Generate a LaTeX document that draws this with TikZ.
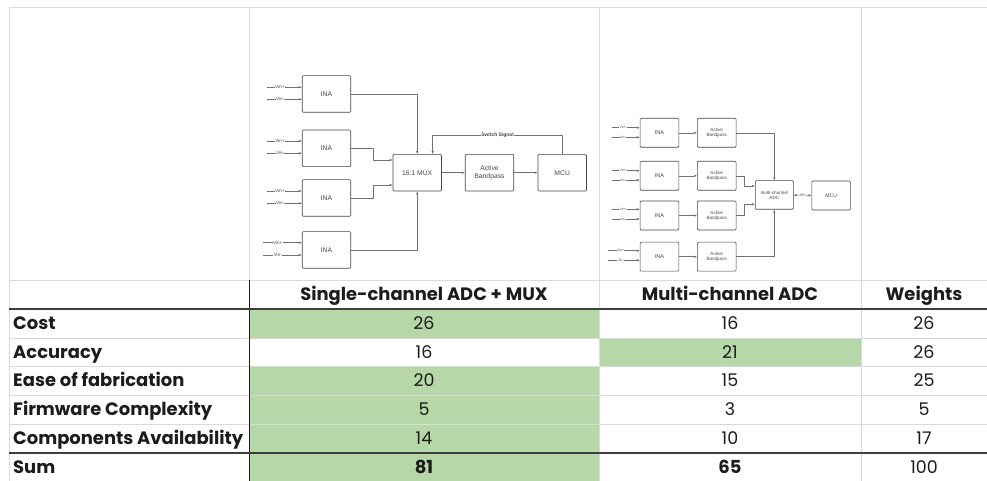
\documentclass[tikz,border=0pt]{standalone}
\usepackage{fontspec}
\setmainfont{Poppins}
\newfontfamily\diagfont{Liberation Sans}
\usetikzlibrary{arrows.meta}
\definecolor{cellgreen}{HTML}{B6D7A8}
\definecolor{gridgray}{HTML}{DADADA}
\definecolor{inkdark}{HTML}{1C1C1C}
\definecolor{wiregray}{HTML}{707070}
\definecolor{boxgray}{HTML}{474747}

\begin{document}
\begin{tikzpicture}[x=1bp,y=-1bp,>={Latex[length=3bp,width=2.4bp]},line join=bevel,
  blk_a/.style={draw=boxgray,line width=0.6bp,rounded corners=1bp,fill=white,inner sep=0pt,
    minimum width=48.5bp,minimum height=36.6bp,align=center,text=boxgray,
    font=\diagfont\fontsize{6.8}{7.6}\selectfont},
  blk_b/.style={blk_a,minimum width=38.7bp,minimum height=29bp,
    font=\diagfont\fontsize{4.6}{5.2}\selectfont},
  wire/.style={draw=wiregray,line width=0.5bp},
  vin_a/.style={fill=white,inner sep=0.3bp,text=boxgray,font=\diagfont\fontsize{4.6}{5}\selectfont},
  vin_b/.style={vin_a,font=\diagfont\fontsize{3.4}{4}\selectfont},
  hdr/.style={text=inkdark,inner sep=0pt,text height=12.5bp,text depth=0bp,
    font=\fontsize{18}{20}\selectfont\bfseries},
  cell/.style={hdr,font=\fontsize{17.5}{20}\selectfont},
  grid_thin/.style={draw=gridgray,line width=0.8bp},
  grid_thick/.style={draw=inkdark!85,line width=1.5bp},
]
\useasboundingbox (0,0) rectangle (987,481);
%% cell fills
\fill [cellgreen] (249,309) rectangle (599,338);
\fill [cellgreen] (249,366.5) rectangle (599,481);
\fill [cellgreen] (599,338) rectangle (861,366.5);
%% grid
\draw [grid_thin] (9,7) -- (987,7);
\draw [grid_thin] (9,7) -- (9,481);
\draw [grid_thin] (249,7) -- (249,280);
\draw [grid_thin] (599,7) -- (599,481);
\draw [grid_thin] (861,7) -- (861,481);
\draw [grid_thin] (9,280) -- (987,280);
\draw [grid_thin] (9,338) -- (987,338);
\draw [grid_thin] (9,366.5) -- (987,366.5);
\draw [grid_thin] (9,395) -- (987,395);
\draw [grid_thin] (9,424) -- (987,424);
\draw [draw=inkdark,line width=1bp] (249,280) -- (249,481);
\draw [grid_thick] (9,309) -- (987,309);
\draw [grid_thick] (9,453) -- (987,453);
%% table text
\node (head_1) at (424,294.5) [hdr] {Single-channel ADC + MUX};
\node (head_2) at (730,294.5) [hdr] {Multi-channel ADC};
\node (head_3) at (924,294.5) [hdr] {Weights};
\node (row_cost) at (13,323.5) [hdr,anchor=west] {Cost};
\node (row_acc) at (13,352) [hdr,anchor=west] {Accuracy};
\node (row_fab) at (13,380.5) [hdr,anchor=west] {Ease of fabrication};
\node (row_fw) at (13,409.5) [hdr,anchor=west] {Firmware Complexity};
\node (row_comp) at (13,438.5) [hdr,anchor=west] {Components Availability};
\node (row_sum) at (13,467) [hdr,anchor=west] {Sum};
\node (cost_1) at (424,323.5) [cell] {26};
\node (cost_2) at (730,323.5) [cell] {16};
\node (cost_3) at (924,323.5) [cell] {26};
\node (acc_1) at (424,352) [cell] {16};
\node (acc_2) at (730,352) [cell] {21};
\node (acc_3) at (924,352) [cell] {26};
\node (fab_1) at (424,380.5) [cell] {20};
\node (fab_2) at (730,380.5) [cell] {15};
\node (fab_3) at (924,380.5) [cell] {25};
\node (fw_1) at (424,409.5) [cell] {5};
\node (fw_2) at (730,409.5) [cell] {3};
\node (fw_3) at (924,409.5) [cell] {5};
\node (comp_1) at (424,438.5) [cell] {14};
\node (comp_2) at (730,438.5) [cell] {10};
\node (comp_3) at (924,438.5) [cell] {17};
\node (sum_1) at (424,467) [hdr] {81};
\node (sum_2) at (730,467) [hdr] {65};
\node (sum_3) at (924,467) [cell] {100};
%% single-channel ADC + MUX
\node (ina_1) at (326.5,94) [blk_a] {INA};
\node (ina_2) at (326.5,148.3) [blk_a] {INA};
\node (ina_3) at (326.5,198) [blk_a] {INA};
\node (ina_4) at (326.5,250) [blk_a] {INA};
\node (mux) at (417.2,172.7) [blk_a] {16:1 MUX};
\node (bp) at (489.5,172.7) [blk_a] {Active\\Bandpass};
\node (mcu) at (562.2,172.7) [blk_a] {MCU};
\coordinate (vp_1) at (266.7,87.3);
\coordinate (vm_1) at (266.7,99.3);
\coordinate (vp_2) at (266.7,141);
\coordinate (vm_2) at (266.7,153.3);
\coordinate (vp_3) at (266.7,191);
\coordinate (vm_3) at (266.7,203.3);
\coordinate (vp_4) at (263,242.7);
\coordinate (vm_4) at (263,255);
\draw [wire,->] (vp_1) -- (vp_1 -| ina_1.west) node [vin_a,pos=0.38] {Vin+};
\draw [wire,->] (vm_1) -- (vm_1 -| ina_1.west) node [vin_a,pos=0.38] {Vin-};
\draw [wire,->] (vp_2) -- (vp_2 -| ina_2.west) node [vin_a,pos=0.38] {Vin+};
\draw [wire,->] (vm_2) -- (vm_2 -| ina_2.west) node [vin_a,pos=0.38] {Vin-};
\draw [wire,->] (vp_3) -- (vp_3 -| ina_3.west) node [vin_a,pos=0.38] {Vin+};
\draw [wire,->] (vm_3) -- (vm_3 -| ina_3.west) node [vin_a,pos=0.38] {Vin-};
\draw [wire,->] (vp_4) -- (vp_4 -| ina_4.west) node [vin_a,pos=0.38] {Vin+};
\draw [wire,->] (vm_4) -- (vm_4 -| ina_4.west) node [vin_a,pos=0.38] {Vin-};
\draw [wire,->] (ina_1.east) -| (mux.north);
\draw [wire,->] (ina_2.east) -- ++(22.6,0) |- ([yshift=12.7bp]mux.west);
\draw [wire,->] (ina_3.east) -- ++(22.6,0) |- ([yshift=-12.3bp]mux.west);
\draw [wire,->] (ina_4.east) -| (mux.south);
\draw [wire,->] (mux) -- (bp);
\draw [wire,->] (bp) -- (mcu);
\draw [wire,->] (mcu.north) -- ++(0,-18.7) -| node [vin_a,pos=0.25,font=\diagfont\fontsize{5}{6}\selectfont\bfseries] {Switch Signal} ([xshift=15.5bp]mux.north);
%% multi-channel ADC
\node (ina_5) at (659.5,132.8) [blk_b,font=\diagfont\fontsize{5.6}{6}\selectfont] {INA};
\node (ina_6) at (659.5,175.8) [blk_b,font=\diagfont\fontsize{5.6}{6}\selectfont] {INA};
\node (ina_7) at (659.5,215.5) [blk_b,font=\diagfont\fontsize{5.6}{6}\selectfont] {INA};
\node (ina_8) at (659.5,256.7) [blk_b,font=\diagfont\fontsize{5.6}{6}\selectfont] {INA};
\node (bp_1) at (716.7,132.8) [blk_b] {Active\\Bandpass};
\node (bp_2) at (716.7,175.8) [blk_b] {Active\\Bandpass};
\node (bp_3) at (716.7,215.5) [blk_b] {Active\\Bandpass};
\node (bp_4) at (716.7,256.7) [blk_b] {Active\\Bandpass};
\node (adc) at (774.3,195) [blk_b,minimum width=38bp,minimum height=28.6bp] {multi-channel\\ADC};
\node (mcu_2) at (831.2,195.5) [blk_b,font=\diagfont\fontsize{5.2}{6}\selectfont] {MCU};
\coordinate (vp_5) at (611.7,127.7);
\coordinate (vm_5) at (611.7,137.3);
\coordinate (vp_6) at (611.7,170.7);
\coordinate (vm_6) at (611.7,180);
\coordinate (vp_7) at (611.7,209.3);
\coordinate (vm_7) at (611.7,219);
\coordinate (vp_8) at (608,250.7);
\coordinate (vm_8) at (608,260.3);
\draw [wire,->] (vp_5) -- (vp_5 -| ina_5.west) node [vin_b,pos=0.4] {Vin+};
\draw [wire,->] (vm_5) -- (vm_5 -| ina_5.west) node [vin_b,pos=0.4] {Vin-};
\draw [wire,->] (vp_6) -- (vp_6 -| ina_6.west) node [vin_b,pos=0.4] {Vin+};
\draw [wire,->] (vm_6) -- (vm_6 -| ina_6.west) node [vin_b,pos=0.4] {Vin-};
\draw [wire,->] (vp_7) -- (vp_7 -| ina_7.west) node [vin_b,pos=0.4] {Vin+};
\draw [wire,->] (vm_7) -- (vm_7 -| ina_7.west) node [vin_b,pos=0.4] {Vin-};
\draw [wire,->] (vp_8) -- (vp_8 -| ina_8.west) node [vin_b,pos=0.4] {Vin+};
\draw [wire,->] (vm_8) -- (vm_8 -| ina_8.west) node [vin_b,pos=0.4] {Vin-};
\draw [wire,->] (ina_5) -- (bp_1);
\draw [wire,->] (ina_6) -- (bp_2);
\draw [wire,->] (ina_7) -- (bp_3);
\draw [wire,->] (ina_8) -- (bp_4);
\draw [wire,->] (bp_1.east) -| (adc.north);
\draw [wire,->] (bp_2.east) -- ++(8,0) |- ([yshift=9bp]adc.west);
\draw [wire,->] (bp_3.east) -- ++(8,0) |- ([yshift=-9.3bp]adc.west);
\draw [wire,->] (bp_4.east) -| (adc.south);
\draw [wire,<->] (adc) -- (mcu_2) node [vin_b,midway] {SPI};
%
\end{tikzpicture}
\end{document}
